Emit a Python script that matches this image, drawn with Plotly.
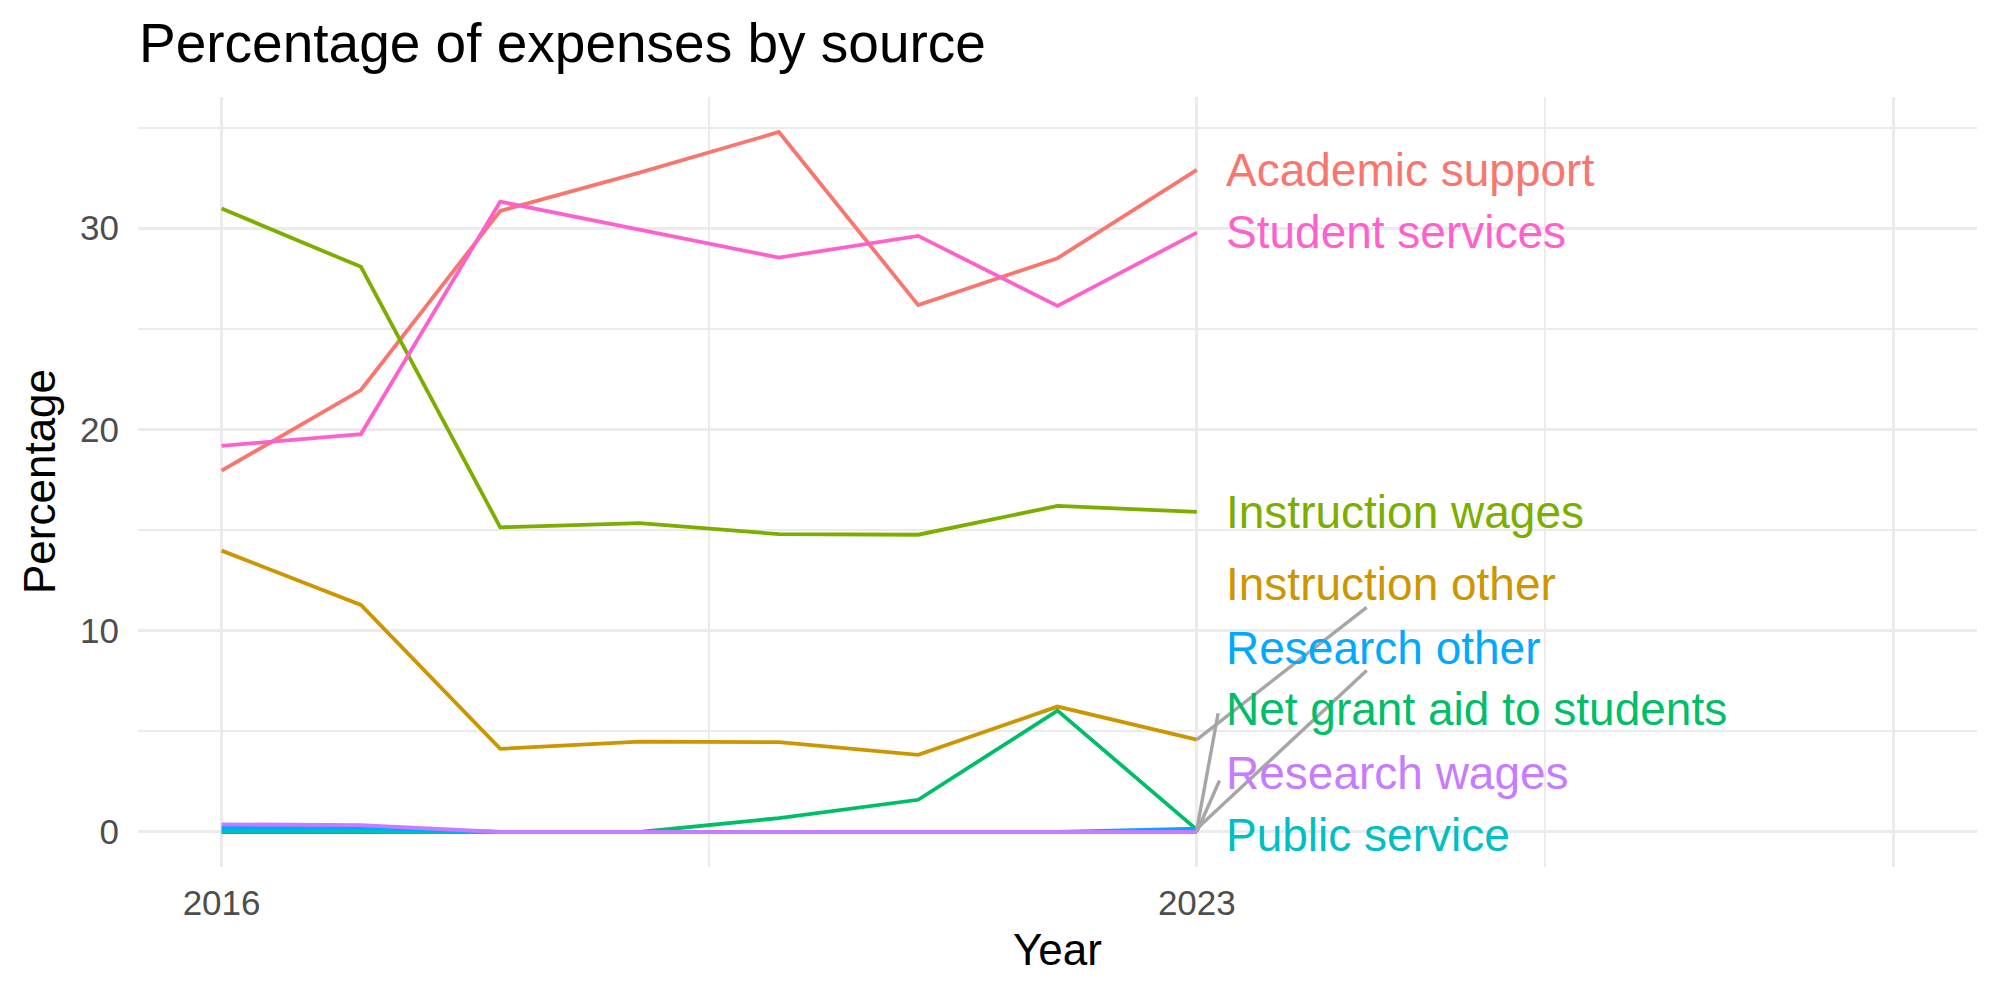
import plotly.graph_objects as go

years = [2016, 2017, 2018, 2019, 2020, 2021, 2022, 2023]

series_names = [
    "Academic support",
    "Instruction other",
    "Instruction wages",
    "Net grant aid to students",
    "Public service",
    "Research other",
    "Research wages",
    "Student services",
]

academic_support = [17.95, 21.96, 30.86, 32.76, 34.78, 26.18, 28.51, 32.9]
instruction_other = [13.98, 11.28, 4.13, 4.49, 4.46, 3.83, 6.23, 4.59]
instruction_wages = [30.98, 28.08, 15.14, 15.35, 14.8, 14.77, 16.2, 15.91]
net_grant_aid = [0.0, 0.0, 0.0, 0.0, 0.69, 1.6, 6.03, 0.12]
public_service = [0.05, 0.05, 0.0, 0.0, 0.0, 0.0, 0.0, 0.0]
research_other = [0.2, 0.2, 0.0, 0.0, 0.0, 0.0, 0.0, 0.16]
research_wages = [0.38, 0.34, 0.0, 0.0, 0.0, 0.0, 0.0, 0.0]
student_services = [19.19, 19.77, 31.32, 29.92, 28.54, 29.62, 26.14, 29.78]

values = [academic_support, instruction_other, instruction_wages, net_grant_aid,
          public_service, research_other, research_wages, student_services]

colors = ["#F8766D", "#CD9600", "#7CAE00", "#00BE67",
          "#00BFC4", "#00A9FF", "#C77CFF", "#FF61CC"]

# repelled label positions (data units)
label_x = 2023.196
label_y = [32.9, 12.32, 15.88, 6.09, -0.15, 9.16, 2.95, 29.79]

# repel segment starts for labels that were moved away from their points
seg_series = ["Instruction other", "Research other", "Net grant aid to students", "Research wages"]
seg_start_x = [2024.219, 2024.219, 2023.153, 2023.163]
seg_start_y = [11.16, 8.02, 5.90, 2.56]

x_tickvals = [2016, 2023, 2028]
x_ticktext = ["2016", "2023", ""]
x_minor = [2019.5, 2025.5]
y_tickvals = [0, 10, 20, 30]

FONT = "Liberation Sans, Arial, Helvetica, sans-serif"

fig = go.Figure()
for name, vals, col in zip(series_names, values, colors):
    fig.add_trace(go.Scatter(x=years, y=vals, mode="lines", name=name,
                             line=dict(color=col, width=3.8), showlegend=False,
                             hoverinfo="skip"))

for nm, sx, sy in zip(seg_series, seg_start_x, seg_start_y):
    idx = series_names.index(nm)
    fig.add_trace(go.Scatter(x=[sx, years[-1]], y=[sy, values[idx][-1]], mode="lines",
                             line=dict(color="#A6A6A6", width=3.4), showlegend=False,
                             hoverinfo="skip"))

annotations = []
for name, ly, col in zip(series_names, label_y, colors):
    annotations.append(dict(x=label_x, y=ly, xref="x", yref="y", text=name,
                            showarrow=False, xanchor="left", yanchor="middle",
                            font=dict(family=FONT, size=46, color=col)))

annotations.append(dict(x=0.5, y=-0.1065, xref="paper", yref="paper", text="Year",
                        showarrow=False, xanchor="center", yanchor="middle",
                        font=dict(family=FONT, size=44, color="black")))
annotations.append(dict(x=(39 - 138) / 1839, y=0.5, xref="paper", yref="paper",
                        text="Percentage", textangle=-90, showarrow=False,
                        xanchor="center", yanchor="middle",
                        font=dict(family=FONT, size=44, color="black")))

fig.update_layout(
    width=2000, height=1000,
    margin=dict(l=138, r=23, t=97, b=133, autoexpand=False),
    paper_bgcolor="white", plot_bgcolor="white",
    title=dict(text="Percentage of expenses by source", x=139 / 2000, xref="container",
               xanchor="left", y=1 - 43 / 1000, yref="container", yanchor="middle",
               font=dict(family=FONT, size=55, color="black")),
    annotations=annotations,
    xaxis=dict(range=[2015.4, 2028.6], tickvals=x_tickvals, ticktext=x_ticktext,
               showgrid=True, gridcolor="#EBEBEB", gridwidth=3.4, zeroline=False,
               showline=False, ticks="", ticklabelstandoff=12,
               tickfont=dict(family=FONT, size=35, color="#4D4D4D"),
               minor=dict(tickvals=x_minor, showgrid=True, gridcolor="#EBEBEB", gridwidth=1.7)),
    yaxis=dict(range=[-1.74, 36.52], tickvals=y_tickvals,
               showgrid=True, gridcolor="#EBEBEB", gridwidth=3.4, zeroline=False,
               showline=False, ticks="", ticklabelstandoff=18,
               tickfont=dict(family=FONT, size=35, color="#4D4D4D"),
               minor=dict(dtick=5, tick0=0, showgrid=True, gridcolor="#EBEBEB", gridwidth=1.7)),
)

fig.write_html("out.html")
